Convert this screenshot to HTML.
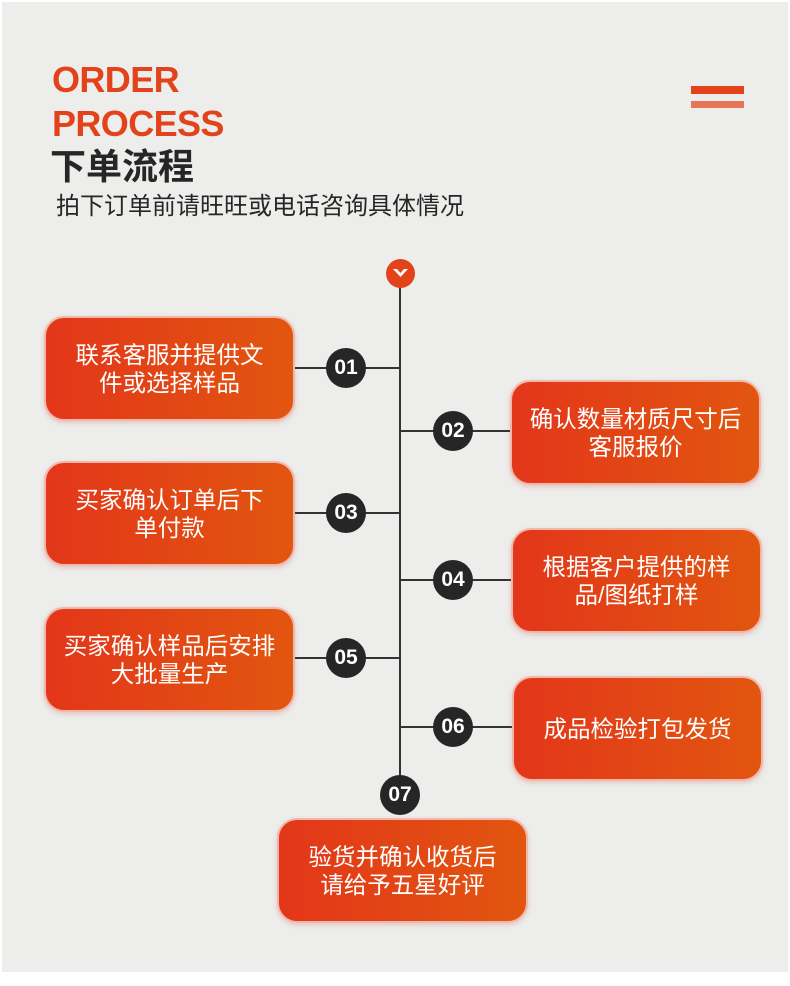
<!DOCTYPE html>
<html><head><meta charset="utf-8"><style>
body{margin:0;width:790px;height:986px;background:#fff;position:relative;overflow:hidden;font-family:"Liberation Sans","Noto Sans CJK SC",sans-serif}
.bg{position:absolute;left:2px;top:2px;width:786px;height:970px;background:#ededeb}
.abs{position:absolute}
.en{left:52px;color:#e2431b;font-weight:bold;font-size:36px;letter-spacing:-0.6px;line-height:40px}
.box{position:absolute;width:251px;height:105px;border-radius:20px;background:linear-gradient(90deg,#e3361a,#e2560f);border:2px solid #f1b7ab;box-sizing:border-box;color:#fff;font-size:23.5px;line-height:28px;display:flex;align-items:center;justify-content:center;text-align:center;padding:0 26px;box-shadow:0 2px 5px rgba(200,80,60,.25)}
.c{position:absolute;width:40px;height:40px;border-radius:50%;background:#262626;color:#fff;font-weight:bold;font-size:21px;line-height:40px;text-align:center}
.h{position:absolute;height:1.5px;background:#333}
</style></head><body>
<div class="bg"></div>
<div class="abs en" style="top:60px">ORDER</div>
<div class="abs en" style="top:104px">PROCESS</div>
<div class="abs" style="left:50px;top:145px;font-size:36px;font-weight:bold;color:#262626;line-height:44px">下单流程</div>
<div class="abs" style="left:56px;top:192px;font-size:24px;color:#262626;line-height:30px">拍下订单前请旺旺或电话咨询具体情况</div>
<div class="abs" style="left:691px;top:86px;width:53px;height:8px;background:#e2431b"></div>
<div class="abs" style="left:691px;top:101px;width:53px;height:7px;background:#e77656"></div>
<div class="abs" style="left:399px;top:287px;width:1.5px;height:490px;background:#333"></div>
<div class="abs" style="left:386px;top:259px;width:29px;height:29px;border-radius:50%;background:#e2431b"></div>
<svg class="abs" style="left:391px;top:266px" width="19" height="14"><path d="M2 3 L9.5 11 L17 3 L13 3 L9.5 7 L6 3Z" fill="#fff"/></svg>

<div class="h" style="left:295px;top:367px;width:104px"></div>
<div class="h" style="left:400px;top:430px;width:111px"></div>
<div class="h" style="left:295px;top:512px;width:104px"></div>
<div class="h" style="left:400px;top:579px;width:111px"></div>
<div class="h" style="left:295px;top:657px;width:104px"></div>
<div class="h" style="left:400px;top:726px;width:112px"></div>

<div class="box" style="left:44px;top:316px">联系客服并提供文件或选择样品</div>
<div class="box" style="left:510px;top:380px;padding:0 8px">确认数量材质尺寸后客服报价</div>
<div class="box" style="left:44px;top:461px">买家确认订单后下单付款</div>
<div class="box" style="left:511px;top:528px">根据客户提供的样品/图纸打样</div>
<div class="box" style="left:44px;top:607px;padding:0 8px">买家确认样品后安排大批量生产</div>
<div class="box" style="left:512px;top:676px">成品检验打包发货</div>
<div class="box" style="left:277px;top:818px">验货并确认收货后请给予五星好评</div>

<div class="c" style="left:326px;top:348px">01</div>
<div class="c" style="left:433px;top:411px">02</div>
<div class="c" style="left:326px;top:493px">03</div>
<div class="c" style="left:433px;top:560px">04</div>
<div class="c" style="left:326px;top:638px">05</div>
<div class="c" style="left:433px;top:707px">06</div>
<div class="c" style="left:380px;top:775px">07</div>
</body></html>
